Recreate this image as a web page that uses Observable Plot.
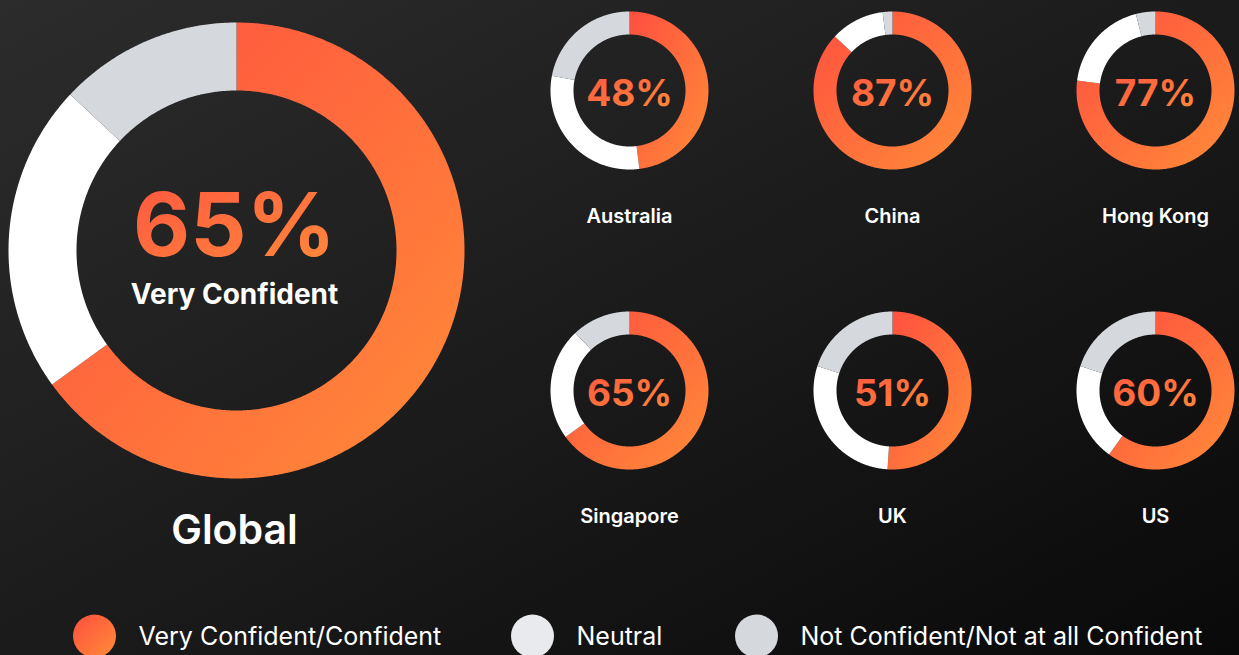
<!DOCTYPE html>
<html><head><meta charset="utf-8">
<script src="https://cdn.jsdelivr.net/npm/d3@7"></script>
<script src="https://cdn.jsdelivr.net/npm/@observablehq/plot@0.6"></script>
<style>
html,body{margin:0;padding:0;}
body{width:1239px;height:655px;overflow:hidden;background:linear-gradient(to bottom right,#2c2c2c 0%,#1b1b1b 50%,#090909 100%);}
#chart svg{display:block;}
</style></head><body><div id="chart"></div>
<script>
// ---- data ----
const regions = ["Global", "Australia", "China", "Hong Kong", "Singapore", "UK", "US"];
const confident = [65, 48, 87, 77, 65, 51, 60];
const neutral = [22, 30, 11, 19, 23, 29, 20];
const notConfident = [13, 22, 2, 4, 12, 20, 20];
const categories = ["Very Confident/Confident", "Neutral", "Not Confident/Not at all Confident"];
const globalSubtitle = "Very Confident";

// ---- layout & style ----
const W = 1239, H = 655;
const ringFill = ["url(#gOrange)", "#ffffff", "#d5d8dd"];
const legendFill = ["url(#gOrange)", "#e9eaed", "#d5d8dd"];
const legendDotX = [94, 532, 756];
const legendY = 635.5;
const layout = regions.map((_, i) => i === 0
  ? {cx: 236, cy: 250, R: 228, r: 160}
  : {cx: 629 + ((i - 1) % 3) * 263, cy: 90 + Math.floor((i - 1) / 3) * 300, R: 79, r: 56});

// ring segment polygons computed from the values
const segs = [];
regions.forEach((name, i) => {
  const vals = [confident[i], neutral[i], notConfident[i]];
  const tot = d3.sum(vals);
  let acc = 0;
  vals.forEach((v, k) => {
    const f0 = acc / tot, f1 = (acc + v) / tot; acc += v;
    const {cx, cy, R, r} = layout[i];
    const n = Math.max(2, Math.ceil((f1 - f0) * 720));
    const id = name + "|" + k;
    const pt = (rad, f) => ({id, cat: k, x: cx + rad * Math.sin(2 * Math.PI * f), y: cy - rad * Math.cos(2 * Math.PI * f)});
    for (let j = 0; j <= n; j++) segs.push(pt(R, f0 + (f1 - f0) * j / n));
    for (let j = n; j >= 0; j--) segs.push(pt(r, f0 + (f1 - f0) * j / n));
  });
});

const font = "Inter, 'Open Sans', sans-serif";
const small = regions.map((d, i) => i).filter(i => i > 0);

const plot = Plot.plot({
  width: W, height: H, margin: 0,
  style: {background: "transparent", overflow: "visible"},
  x: {domain: [0, W], range: [0, W], axis: null},
  y: {domain: [0, H], range: [0, H], axis: null},
  color: {type: "identity"},
  marks: [
    Plot.line(segs, {x: "x", y: "y", z: "id", fill: d => ringFill[d.cat], stroke: null, curve: "linear-closed"}),
    // Global center
    Plot.text([confident[0]], {x: () => layout[0].cx - 2, y: () => layout[0].cy + 5, text: d => d + "%",
      fill: "url(#gText)", fontSize: 88, fontWeight: 700, fontFamily: font, lineAnchor: "bottom", letterSpacing: "-0.5px"}),
    Plot.text([globalSubtitle], {x: () => layout[0].cx - 2, y: () => layout[0].cy + 53, text: d => d,
      fill: "#ffffff", fontSize: 28, fontWeight: 700, fontFamily: font, lineAnchor: "bottom", letterSpacing: "1.5px"}),
    Plot.text([regions[0]], {x: () => layout[0].cx - 2, y: () => 543, text: d => d,
      fill: "#ffffff", fontSize: 41, fontWeight: 600, fontFamily: font, lineAnchor: "bottom", letterSpacing: "0.5px"}),
    // small donuts
    Plot.text(small, {x: i => layout[i].cx, y: i => layout[i].cy + 15, text: i => confident[i] + "%",
      fill: "url(#gText)", fontSize: 37, fontWeight: 700, fontFamily: font, lineAnchor: "bottom", letterSpacing: "-0.5px"}),
    Plot.text(small, {x: i => layout[i].cx, y: i => layout[i].cy + 132, text: i => regions[i],
      fill: "#ffffff", fontSize: 20, fontWeight: 600, fontFamily: font, lineAnchor: "bottom"}),
    // legend
    Plot.dot(categories, {x: (d, i) => legendDotX[i], y: () => legendY, r: 21.5, fill: (d, i) => legendFill[i], stroke: null}),
    Plot.text(categories, {x: (d, i) => legendDotX[i] + 44, y: () => legendY + 8.5, text: d => d, textAnchor: "start",
      fill: "#ffffff", fontSize: 25, fontWeight: 400, fontFamily: font, lineAnchor: "bottom"})
  ]
});

// gradient definitions
const ns = "http://www.w3.org/2000/svg";
const defs = document.createElementNS(ns, "defs");
function grad(id, stops, x2, y2) {
  const g = document.createElementNS(ns, "linearGradient");
  g.setAttribute("id", id);
  g.setAttribute("x1", "0"); g.setAttribute("y1", "0");
  g.setAttribute("x2", x2); g.setAttribute("y2", y2);
  stops.forEach(([o, c]) => {
    const s = document.createElementNS(ns, "stop");
    s.setAttribute("offset", o); s.setAttribute("stop-color", c);
    g.appendChild(s);
  });
  defs.appendChild(g);
}
grad("gOrange", [[0, "#ff4f40"], [1, "#ff8c38"]], "1", "1");
grad("gText", [[0, "#ff5640"], [1, "#ff8b3a"]], "1", "1");
plot.insertBefore(defs, plot.firstChild);
document.getElementById("chart").appendChild(plot);
</script>
</body></html>
